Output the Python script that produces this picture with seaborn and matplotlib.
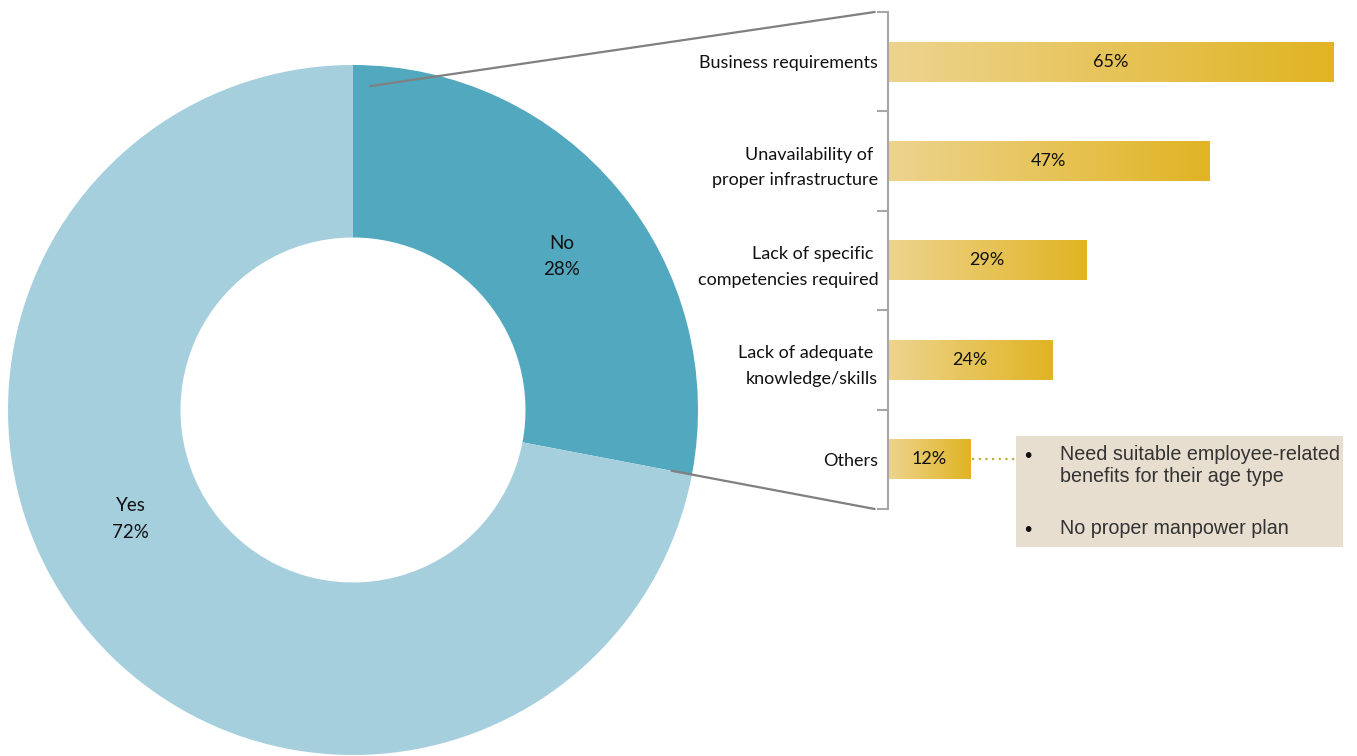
import matplotlib.pyplot as plt
import seaborn as sns
import numpy as np
from matplotlib.colors import LinearSegmentedColormap
from matplotlib.patches import ConnectionPatch, Rectangle

sns.set_theme(style="white")
plt.rcParams['font.family'] = ['Lato', 'DejaVu Sans']

# data
pie_labels = ["No", "Yes"]
pie_values = [28, 72]
reasons = ["Business requirements", "Unavailability of \nproper infrastructure",
           "Lack of specific \ncompetencies required", "Lack of adequate \nknowledge/skills",
           "Others"]
reason_values = [65, 47, 29, 24, 12]
other_notes = ["Need suitable employee-related\nbenefits for their age type",
               "No proper manpower plan"]

W, H = 1357, 756
fig = plt.figure(figsize=(W / 100, H / 100), dpi=100)

# donut
ax_pie = fig.add_axes([8 / W, 1 / H, 690 / W, 690 / H])
wedges, _ = ax_pie.pie(pie_values, colors=["#52A8BE", "#A6CFDE"], startangle=90,
                       counterclock=False, radius=1,
                       wedgeprops=dict(width=0.5, edgecolor="none"))
ax_pie.set_xlim(-1, 1)
ax_pie.set_ylim(-1, 1)
ax_pie.set_aspect("equal")
ax_pie.axis("off")
label_pos = {"No": (0.605, 0.445), "Yes": (-0.645, -0.315)}
for lab, val in zip(pie_labels, pie_values):
    x, y = label_pos[lab]
    ax_pie.text(x, y, f"{lab}\n{val}%", ha="center", va="center", fontsize=13.5,
                color="#111111", linespacing=1.7)

# bars
ax_bar = fig.add_axes([888 / W, (H - 509) / H, 445 / W, 497 / H])
sns.barplot(x=reason_values, y=reasons, orient="h", ax=ax_bar, width=0.4,
            color="#E6C35A")
cmap = LinearSegmentedColormap.from_list("gold", ["#EDD48F", "#E7C459", "#E0B423"])
grad = np.linspace(0, 1, 256).reshape(1, -1)
for p, v in zip(ax_bar.patches, reason_values):
    x0, y0 = p.get_x(), p.get_y()
    w, h = p.get_width(), p.get_height()
    p.set_visible(False)
    ax_bar.imshow(grad, cmap=cmap, aspect="auto", extent=(x0, x0 + w, y0 + h, y0),
                  zorder=2)
    ax_bar.text(x0 + w / 2, y0 + h / 2, f"{v}%", ha="center", va="center",
                fontsize=13, color="#111111", zorder=3)
ax_bar.set_ylim(len(reasons) - 0.5, -0.5)
ax_bar.set_xlim(0, max(reason_values))

for s in ["top", "right", "bottom"]:
    ax_bar.spines[s].set_visible(False)
ax_bar.spines["left"].set_color("#A6A6A6")
ax_bar.spines["left"].set_linewidth(1.5)
ax_bar.set_xticks([])
ax_bar.set_yticks(np.arange(-0.5, len(reasons)), minor=True)
ax_bar.tick_params(axis="y", which="minor", length=8, width=1.5, color="#A6A6A6",
                   direction="out", left=True)
ax_bar.tick_params(axis="y", which="major", length=0, pad=7, labelsize=13,
                   labelcolor="#111111")
for t in ax_bar.get_yticklabels():
    t.set_linespacing(1.75)
ax_bar.set_xlabel("")
ax_bar.set_ylabel("")

# connectors from the "No" wedge to the breakdown
w_no = wedges[0]
for ang, yfrac in [(w_no.theta2 - 3, 1.0), (w_no.theta1, 0.0)]:
    r = 0.94
    xy = (r * np.cos(np.radians(ang)), r * np.sin(np.radians(ang)))
    con = ConnectionPatch(xyA=xy, coordsA=ax_pie.transData, xyB=(-0.03, yfrac),
                          coordsB=ax_bar.transAxes, color="#808080", lw=1.6)
    fig.add_artist(con)

# note box for "Others"
box_left, box_right = 1016, 1343
fig.add_artist(Rectangle((box_left / W, (H - 547) / H), (box_right - box_left) / W,
                         111 / H, transform=fig.transFigure, facecolor="#E7DED0",
                         edgecolor="none"))
x_box = (box_left - 888) / 445 * max(reason_values)
ax_bar.plot([reason_values[-1] + 0.3, x_box], [4, 4], ls=(0, (1, 2)), lw=1.6,
            color="#B5B04A", clip_on=False)
for note, ytop, ybul in zip(other_notes, [445, 519], [456, 530]):
    fig.text(1028 / W, (H - ybul) / H, "\u2022", fontsize=15, color="#111111",
             family="Liberation Sans", va="center", ha="center")
    fig.text(1060 / W, (H - ytop) / H, note, fontsize=14.2, color="#333333",
             family="Liberation Sans", va="top", linespacing=1.2)

fig.savefig("out.png", dpi=100)
